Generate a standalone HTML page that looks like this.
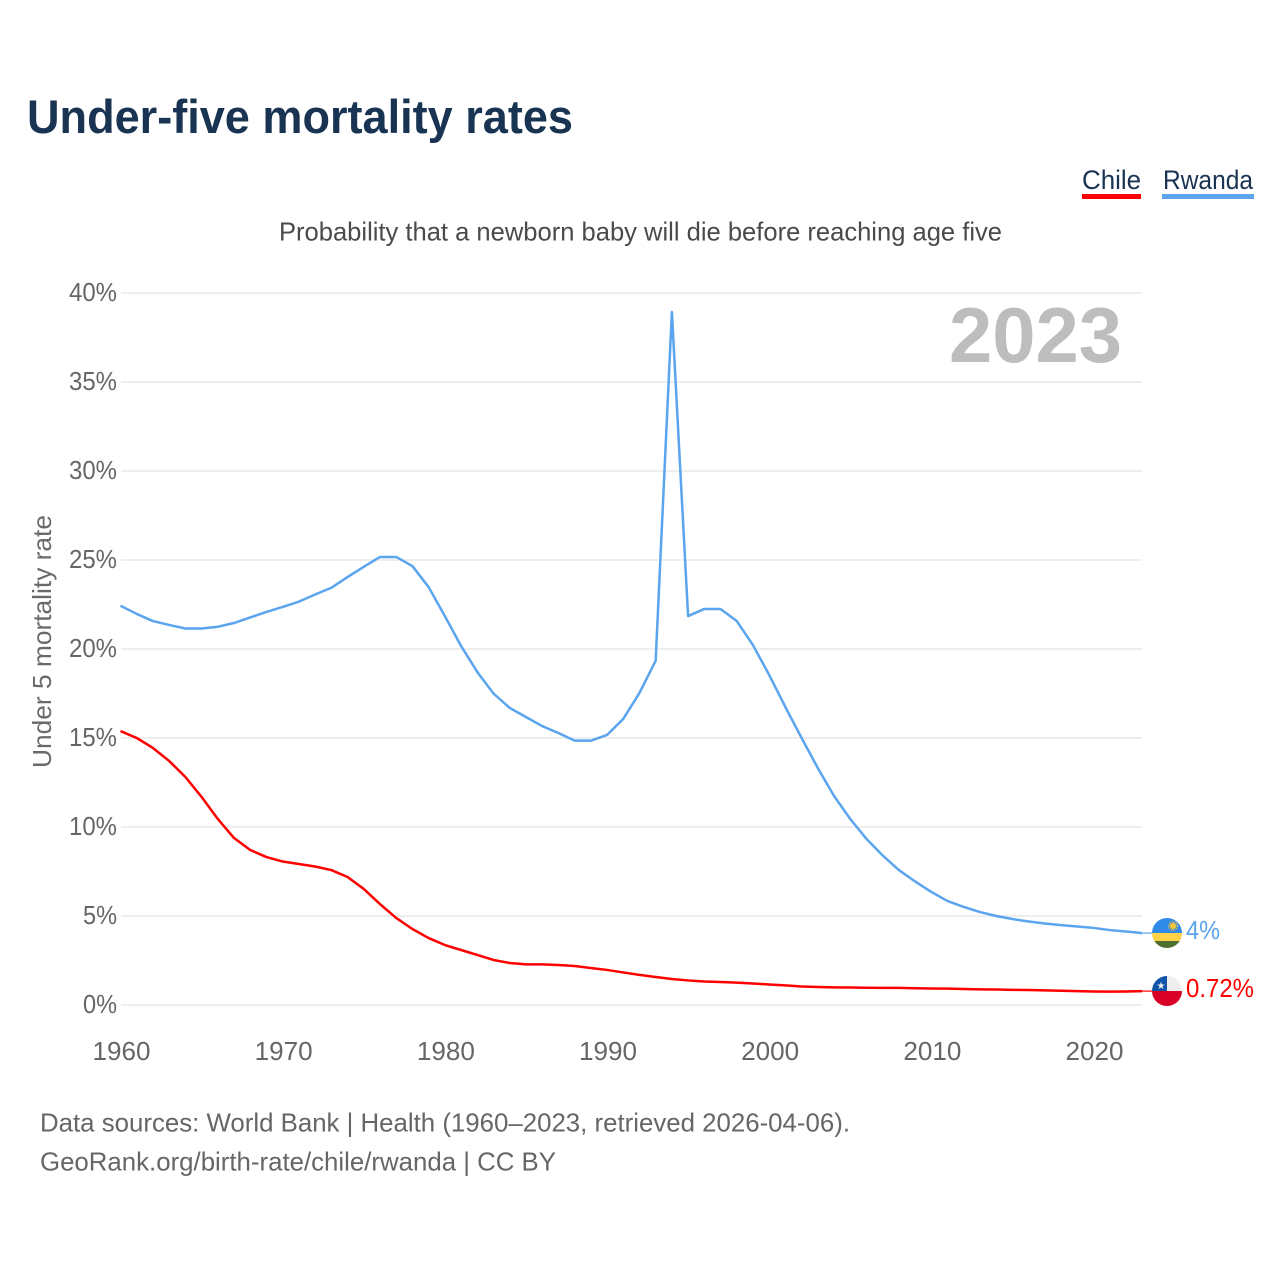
<!DOCTYPE html>
<html lang="en">
<head>
<meta charset="utf-8">
<title>Under-five mortality rates</title>
<style>
html,body{margin:0;padding:0;background:#fff;}
svg{display:block;font-family:"Liberation Sans",Arial,sans-serif;}
</style>
</head>
<body>
<svg id="chart" xmlns="http://www.w3.org/2000/svg" width="1280" height="1280" viewBox="0 0 1280 1280">
  <defs>
    <clipPath id="clip-rw"><circle cx="1167" cy="933" r="15"/></clipPath>
    <clipPath id="clip-cl"><circle cx="1167" cy="991" r="15"/></clipPath>
  </defs>
  <rect width="1280" height="1280" fill="#fff"/>
  <text x="27" y="133" font-size="47" font-weight="700" fill="#193353" textLength="546" lengthAdjust="spacingAndGlyphs">Under-five mortality rates</text>

  <g>
    <text x="1082" y="189" font-size="27" fill="#193353" textLength="59" lengthAdjust="spacingAndGlyphs">Chile</text>
    <rect x="1082" y="194" width="59" height="5" fill="#ff0000"/>
  </g>
  <g>
    <text x="1163" y="189" font-size="27" fill="#193353" textLength="90" lengthAdjust="spacingAndGlyphs">Rwanda</text>
    <rect x="1162" y="194" width="92" height="5" fill="#5ba4ee"/>
  </g>

  <text x="279" y="240.5" font-size="26" fill="#4a4a4a" textLength="723" lengthAdjust="spacingAndGlyphs">Probability that a newborn baby will die before reaching age five</text>

  <g id="grid"></g>
  <g id="yticks"></g>
  <g id="xticks"></g>

  <text transform="translate(51,768) rotate(-90)" x="0" y="0" font-size="26" fill="#6a6a6a" textLength="253" lengthAdjust="spacingAndGlyphs">Under 5 mortality rate</text>

  <text x="949" y="362" font-size="78" font-weight="700" fill="#bdbdbd" textLength="173" lengthAdjust="spacingAndGlyphs">2023</text>

  <path id="line-rwanda" fill="none" stroke="#5ba4ee" stroke-width="2.5" stroke-linejoin="round"/>
  <path id="line-chile" fill="none" stroke="#ff0000" stroke-width="2.5" stroke-linejoin="round"/>
  <line id="connector-rwanda" stroke="#5ba4ee" stroke-width="1.2"/>
  <line id="connector-chile" stroke="#ff0000" stroke-width="1.2"/>

  <g clip-path="url(#clip-rw)">
    <rect x="1152" y="918" width="30" height="15" fill="#2f8ae8"/>
    <rect x="1152" y="933" width="30" height="8" fill="#fdd345"/>
    <rect x="1152" y="941" width="30" height="8" fill="#4d7030"/>
    <circle cx="1173" cy="926" r="3.2" fill="#f2c53a"/>
    <circle cx="1173" cy="926" r="4.4" fill="none" stroke="#f2c53a" stroke-width="1.2" stroke-dasharray="1.2 1"/>
  </g>
  <g clip-path="url(#clip-cl)">
    <rect x="1152" y="976" width="30" height="15" fill="#eeeeee"/>
    <rect x="1152" y="976" width="15" height="15" fill="#0f55a8"/>
    <rect x="1152" y="991" width="30" height="16" fill="#d80027"/>
    <text x="1161" y="989" font-size="10" text-anchor="middle" fill="#f0f0f0">★</text>
  </g>

  <text x="1186" y="939" font-size="26" fill="#5ba4ee" textLength="34" lengthAdjust="spacingAndGlyphs">4%</text>
  <text x="1186" y="997" font-size="26" fill="#ff0000" textLength="68" lengthAdjust="spacingAndGlyphs">0.72%</text>

  <text x="40" y="1131.5" font-size="26" fill="#666666" textLength="810" lengthAdjust="spacingAndGlyphs">Data sources: World Bank | Health (1960–2023, retrieved 2026-04-06).</text>
  <text x="40" y="1170.5" font-size="26" fill="#666666" textLength="516" lengthAdjust="spacingAndGlyphs">GeoRank.org/birth-rate/chile/rwanda | CC BY</text>
</svg>
<script>
const startYear = 1960;
const yTickValues = [0, 5, 10, 15, 20, 25, 30, 35, 40];
const xTickValues = [1960, 1970, 1980, 1990, 2000, 2010, 2020];
const rwandaValues = [22.43,21.97,21.57,21.35,21.15,21.15,21.25,21.46,21.77,22.08,22.36,22.66,23.06,23.44,24.04,24.62,25.17,25.17,24.66,23.48,21.85,20.17,18.71,17.5,16.69,16.18,15.67,15.28,14.85,14.85,15.17,16.07,17.53,19.34,38.93,21.85,22.25,22.25,21.57,20.22,18.54,16.74,15.0,13.31,11.74,10.45,9.33,8.4,7.58,6.94,6.35,5.84,5.51,5.22,5.0,4.83,4.69,4.58,4.49,4.41,4.33,4.21,4.13,4.04];
const chileValues = [15.39,15.0,14.44,13.71,12.81,11.69,10.45,9.38,8.71,8.31,8.06,7.92,7.78,7.58,7.19,6.52,5.67,4.89,4.27,3.76,3.37,3.09,2.81,2.53,2.36,2.28,2.28,2.25,2.19,2.08,1.97,1.83,1.69,1.57,1.46,1.38,1.32,1.29,1.26,1.21,1.15,1.1,1.04,1.01,0.99,0.98,0.97,0.96,0.96,0.94,0.93,0.92,0.9,0.88,0.87,0.85,0.84,0.82,0.8,0.78,0.76,0.75,0.76,0.78];

const SVG_NS = 'http://www.w3.org/2000/svg';
function xScale(year) { return 120.5 + (year - 1960) * 16.217; }
function yScale(value) { return 1005 - value * (1005 - 293) / 40; }
function buildPath(values) {
  return values.map(function (v, i) {
    return (i ? 'L' : 'M') + xScale(startYear + i).toFixed(2) + ' ' + yScale(v).toFixed(2);
  }).join(' ');
}

const grid = document.getElementById('grid');
const yticks = document.getElementById('yticks');
const xticks = document.getElementById('xticks');

yTickValues.forEach(function (v) {
  const gridLine = document.createElementNS(SVG_NS, 'line');
  gridLine.setAttribute('x1', 121);
  gridLine.setAttribute('x2', 1142);
  gridLine.setAttribute('y1', yScale(v));
  gridLine.setAttribute('y2', yScale(v));
  gridLine.setAttribute('stroke', '#eeeeee');
  gridLine.setAttribute('stroke-width', 2);
  
  
  grid.appendChild(gridLine);

  const label = document.createElementNS(SVG_NS, 'text');
  label.textContent = v + '%';
  label.setAttribute('x', 117);
  label.setAttribute('y', yScale(v) + 8);
  label.setAttribute('text-anchor', 'end');
  label.setAttribute('font-size', 26);
  label.setAttribute('fill', '#666666');
  label.setAttribute('textLength', v < 10 ? 34 : 48);
  label.setAttribute('lengthAdjust', 'spacingAndGlyphs');
  
  
  yticks.appendChild(label);
});

xTickValues.forEach(function (year) {
  const label = document.createElementNS(SVG_NS, 'text');
  label.textContent = year;
  label.setAttribute('x', xScale(year) + 1);
  label.setAttribute('y', 1060);
  label.setAttribute('text-anchor', 'middle');
  label.setAttribute('font-size', 26);
  label.setAttribute('fill', '#666666');
  label.setAttribute('textLength', 58);
  label.setAttribute('lengthAdjust', 'spacingAndGlyphs');
  
  
  xticks.appendChild(label);
});

document.getElementById('line-rwanda').setAttribute('d', buildPath(rwandaValues));
document.getElementById('line-chile').setAttribute('d', buildPath(chileValues));

function placeConnector(id, values) {
  const c = document.getElementById(id);
  const endX = xScale(startYear + values.length - 1);
  const endY = yScale(values[values.length - 1]);
  c.setAttribute('x1', endX);
  c.setAttribute('x2', 1152);
  c.setAttribute('y1', endY);
  c.setAttribute('y2', endY);
}
placeConnector('connector-rwanda', rwandaValues);
placeConnector('connector-chile', chileValues);
</script>
</body>
</html>
